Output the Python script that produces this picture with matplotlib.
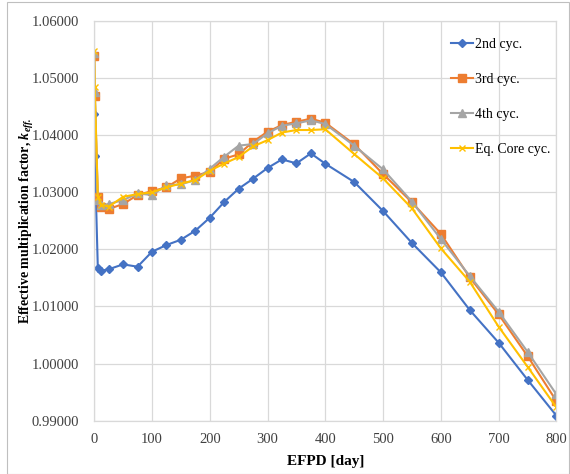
import matplotlib
matplotlib.use("Agg")
import matplotlib.pyplot as plt
from matplotlib.ticker import FormatStrFormatter
from matplotlib.patches import Rectangle

plt.rcParams['font.family'] = ['Liberation Serif', 'DejaVu Serif']
plt.rcParams['mathtext.fontset'] = 'custom'
plt.rcParams['mathtext.rm'] = 'Liberation Serif'
plt.rcParams['mathtext.it'] = 'Liberation Serif:italic'
plt.rcParams['mathtext.bf'] = 'Liberation Serif:bold'
plt.rcParams['mathtext.bfit'] = 'Liberation Serif:italic:bold'

# EFPD steps (days)
efpd = [0, 1, 6.25, 12.5, 25, 50, 75, 100, 125, 150, 175, 200, 225, 250, 275,
        300, 325, 350, 375, 400, 450, 500, 550, 600, 650, 700, 750, 800]

k_2nd = [1.04361, 1.03632, 1.01678, 1.01625, 1.01650, 1.01736, 1.01695, 1.01957,
         1.02074, 1.02167, 1.02325, 1.02552, 1.02827, 1.03060, 1.03235, 1.03422,
         1.03573, 1.03503, 1.03678, 1.03497, 1.03177, 1.02669, 1.02109, 1.01596,
         1.00937, 1.00365, 0.99717, 0.99088]

k_3rd = [1.05382, 1.04676, 1.02908, 1.02733, 1.02704, 1.02792, 1.02949, 1.03019,
         1.03083, 1.03241, 1.03287, 1.03357, 1.03585, 1.03661, 1.03883, 1.04057,
         1.04174, 1.04232, 1.04285, 1.04215, 1.03836, 1.03317, 1.02821, 1.02267,
         1.01508, 1.00861, 1.00132, 0.99344]

k_4th = [1.05440, 1.04757, 1.02862, 1.02770, 1.02792, 1.02860, 1.02978, 1.02949,
         1.03118, 1.03136, 1.03212, 1.03410, 1.03620, 1.03813, 1.03842, 1.04028,
         1.04163, 1.04203, 1.04256, 1.04192, 1.03813, 1.03398, 1.02833, 1.02179,
         1.01532, 1.00907, 1.00207, 0.99461]

k_eq = [1.05475, 1.04833, 1.02920, 1.02780, 1.02745, 1.02918, 1.02965, 1.02996,
        1.03083, 1.03150, 1.03210, 1.03375, 1.03500, 1.03615, 1.03800, 1.03910,
        1.04043, 1.04087, 1.04087, 1.04100, 1.03667, 1.03240, 1.02716, 1.02016,
        1.01432, 1.00645, 0.99945, 0.99233]

W, H = 570, 474
fig = plt.figure(figsize=(W / 100, H / 100), dpi=100)
ax = fig.add_axes([94.2 / W, 1 - 420.7 / H, 462.2 / W, 400 / H])

# outer chart border
fig.patches.append(Rectangle((6.5 / W, 0.5 / H), 562 / W, 472 / H, transform=fig.transFigure,
                             fill=False, edgecolor='#bfbfbf', lw=0.8))

ax.plot(efpd, k_2nd, color='#4472C4', lw=1.5, marker='D', ms=4, label='2nd cyc.')
ax.plot(efpd, k_3rd, color='#ED7D31', lw=1.5, marker='s', ms=6, label='3rd cyc.')
ax.plot(efpd, k_4th, color='#A5A5A5', lw=1.5, marker='^', ms=6, label='4th cyc.')
ax.plot(efpd, k_eq, color='#FFC000', lw=1.5, marker='x', ms=5, mew=1.0, label='Eq. Core cyc.')

ax.set_xlim(0, 800)
ax.set_ylim(0.99, 1.06)
ax.set_xticks(range(0, 801, 100))
ax.set_yticks([0.99 + 0.01 * i for i in range(8)])
ax.yaxis.set_major_formatter(FormatStrFormatter('%.5f'))
ax.tick_params(length=0, labelsize=10.5, colors='#404040')
ax.tick_params(axis='y', pad=11)
ax.tick_params(axis='x', pad=9)
ax.grid(True, color='#d9d9d9', lw=0.9)
ax.set_axisbelow(True)
for s in ax.spines.values():
    s.set_color('#d9d9d9')
    s.set_linewidth(0.9)

ax.set_xlabel('EFPD [day]', fontsize=11, fontweight='bold', labelpad=6)
ax.set_ylabel(r'Effective multiplication factor, $\mathbfit{k}_{\mathbfit{eff.}}$',
              fontsize=10, fontweight='bold')
ax.yaxis.set_label_coords((36 - 94.2) / 462.2, 0.5)

fig.legend(loc='upper left', bbox_to_anchor=(451 / W, 1 - 38 / H), frameon=False,
           fontsize=10, handlelength=1.6, handletextpad=0.15, labelspacing=1.58,
           borderpad=0, borderaxespad=0)

fig.savefig('out.png', dpi=100)
